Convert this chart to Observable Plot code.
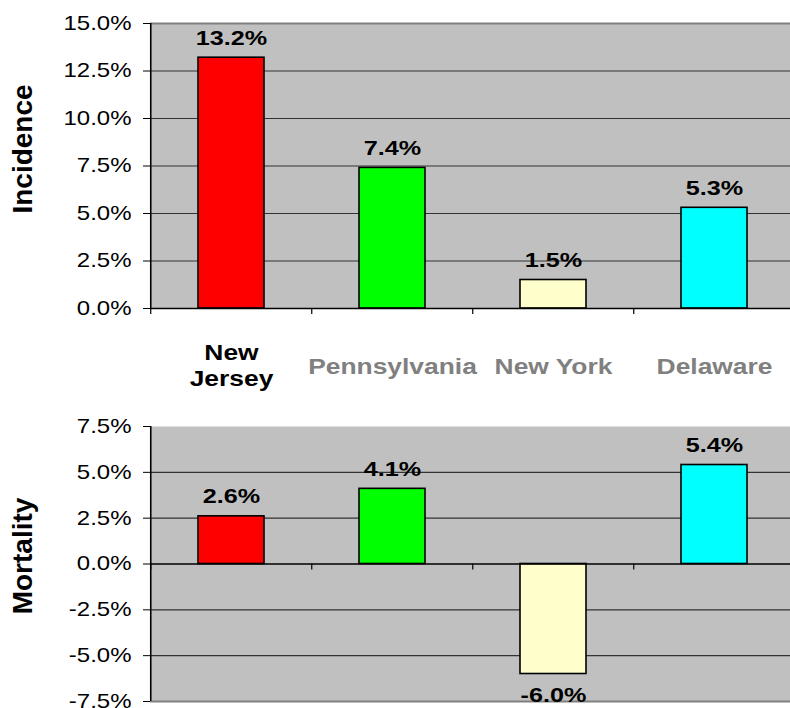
<!DOCTYPE html>
<html><head><meta charset="utf-8">
<script src="https://cdn.jsdelivr.net/npm/d3@7"></script>
<script src="https://cdn.jsdelivr.net/npm/@observablehq/plot@0.6"></script>
<style>
body{margin:0;background:#fff;}
#wrap{position:relative;width:790px;height:708px;overflow:hidden;font-family:"Liberation Sans",Arial,sans-serif;}
#wrap svg{position:absolute;left:0;overflow:visible;}
</style></head><body><div id="wrap"></div>
<script>
// ---- data ----
const states = ["New Jersey", "Pennsylvania", "New York", "Delaware"];
const stateLabels = ["New\nJersey", "Pennsylvania", "New York", "Delaware"];
const incidence = [0.132, 0.074, 0.015, 0.053];
const mortality = [0.026, 0.041, -0.060, 0.054];
const incidenceTicks = [0, 0.025, 0.05, 0.075, 0.10, 0.125, 0.15];
const mortalityTicks = [-0.075, -0.05, -0.025, 0, 0.025, 0.05, 0.075];
const axisTitles = ["Incidence", "Mortality"];

// ---- styles ----
const barColors = ["#FF0000", "#00FF00", "#FFFFCC", "#00FFFF"];
const labelColors = ["#000000", "#808080", "#808080", "#808080"];
const W = 790, ML = 150, MR = -6;
const step = (W - ML - MR) / states.length;
const locale = d3.formatLocale({decimal: ".", thousands: ",", grouping: [3], currency: ["$", ""], minus: "-", percent: "%"});
const pct = locale.format(".1%");
const FONT = '"Liberation Sans", Arial, sans-serif';
const SX = 1.2;

function panel({values, ticks, title, height, marginTop, marginBottom, showLabels, titleDy, gridTicks, borderTick}) {
  const rows = states.map((s, i) => ({state: s, value: values[i], color: barColors[i]}));
  const labelRows = states.map((s, i) => ({state: s, label: stateLabels[i], color: labelColors[i]}));
  const marks = [
    Plot.frame({fill: "#C0C0C0", stroke: "none"}),
    Plot.ruleY(gridTicks, {stroke: "#333", strokeWidth: 1.2}),
    Plot.ruleY([borderTick], {stroke: "#808080", strokeWidth: 2}),
    Plot.barY(rows, {x: "state", y: "value", fill: "color", stroke: "#000", strokeWidth: 1.6}),
    Plot.ruleY([0], {stroke: "#000", strokeWidth: 1.3}),
    Plot.ruleX(states, {x: d => d, y1: 0, y2: 0, insetBottom: -6, dx: -step / 2, stroke: "#000", strokeWidth: 1.2}),
    Plot.ruleX([states[0]], {dx: -step / 2, stroke: "#000", strokeWidth: 1.6}),
    Plot.axisY(ticks, {tickFormat: pct, tickSize: 7, tickPadding: 12, fontSize: 20, label: null, stroke: "#000"}),
    Plot.text(rows.filter(d => d.value >= 0), {x: "state", y: "value", text: d => pct(d.value), lineAnchor: "bottom", dy: -13, fontSize: 21, fontWeight: "bold", fill: "#000"}),
    Plot.text(rows.filter(d => d.value < 0), {x: "state", y: "value", text: d => pct(d.value), lineAnchor: "top", dy: 13, fontSize: 21, fontWeight: "bold", fill: "#000"}),
    Plot.text([title], {frameAnchor: "left", textAnchor: "middle", rotate: -90, dx: -127, dy: titleDy, fontSize: 28, fontWeight: "bold", fill: "#000"})
  ];
  if (showLabels) {
    marks.push(Plot.text(labelRows.filter(d => !d.label.includes("\n")), {x: "state", text: "label", fill: "color", frameAnchor: "bottom", dy: 65, fontSize: 22, fontWeight: "bold"}));
    marks.push(Plot.text(labelRows.filter(d => d.label.includes("\n")), {x: "state", text: "label", fill: "color", frameAnchor: "bottom", dy: 77, fontSize: 22, fontWeight: "bold", lineHeight: 1.14}));
  }
  return Plot.plot({
    width: W, height, marginLeft: ML, marginRight: MR, marginTop, marginBottom,
    x: {domain: states, paddingInner: 0.59, paddingOuter: 0.295, axis: null},
    y: {domain: [ticks[0], ticks[ticks.length - 1]], label: null},
    color: {type: "identity"},
    style: {fontFamily: FONT, background: "transparent", overflow: "visible"},
    marks
  });
}

function stretch(svg, sx) {
  svg.querySelectorAll("text").forEach(t => {
    const tr = t.getAttribute("transform");
    if (tr && tr.includes("rotate")) return;
    if (tr) t.setAttribute("transform", tr + ` scale(${sx},1)`);
    else {
      const x = +t.getAttribute("x") || 0, y = +t.getAttribute("y") || 0;
      t.setAttribute("transform", `translate(${x},${y}) scale(${sx},1) translate(${-x},${-y})`);
    }
  });
}

const wrap = document.getElementById("wrap");
const top1 = panel({
  values: incidence, ticks: incidenceTicks, title: axisTitles[0], height: 400,
  marginTop: 23, marginBottom: 92, showLabels: true, titleDy: -17,
  gridTicks: incidenceTicks.filter(t => t > 0 && t < 0.15), borderTick: 0.15
});
top1.style.top = "0px";
stretch(top1, SX);
wrap.appendChild(top1);

const bot = panel({
  values: mortality, ticks: mortalityTicks, title: axisTitles[1], height: 308,
  marginTop: 26, marginBottom: 7, showLabels: false, titleDy: -8,
  gridTicks: mortalityTicks.filter(t => t !== 0 && Math.abs(t) < 0.07), borderTick: -0.075
});
bot.style.top = "400px";
stretch(bot, SX);
wrap.appendChild(bot);
</script>
</body></html>
